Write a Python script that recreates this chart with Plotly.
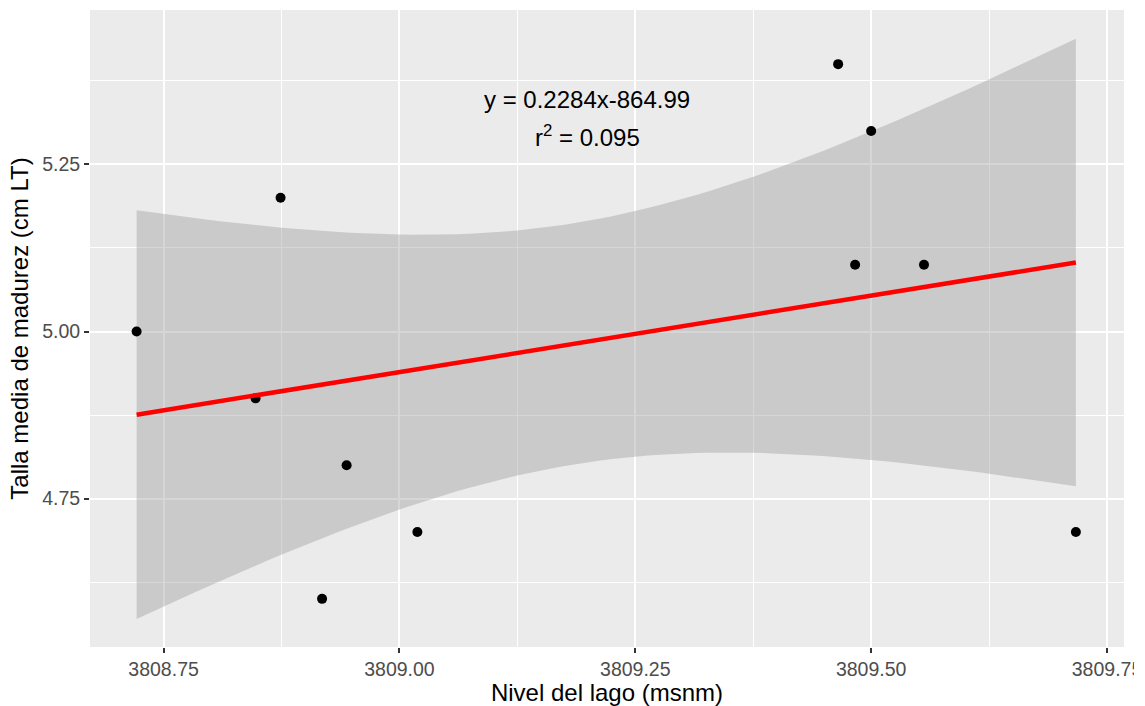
import numpy as np
import plotly.graph_objects as go

# Lake level (m a.s.l.) and mean length at maturity (cm TL)
nivel = [3808.7214, 3808.8475, 3808.8740, 3808.9180, 3808.9440, 3809.0190,
         3809.4650, 3809.4830, 3809.5000, 3809.5560, 3809.7170]
talla = [5.0, 4.9, 5.2, 4.6, 4.8, 4.7, 5.4, 5.1, 5.3, 5.1, 4.7]

x_ticks = [3808.75, 3809.00, 3809.25, 3809.50, 3809.75]
x_tick_text = ["3808.75", "3809.00", "3809.25", "3809.50", "3809.75"]
y_ticks = [4.75, 5.00, 5.25]
y_tick_text = ["4.75", "5.00", "5.25"]
x_minor = [3808.625, 3808.875, 3809.125, 3809.375, 3809.625]
y_minor = [4.625, 4.875, 5.125, 5.375]

eq_text = "y = 0.2284x-864.99"
r2_text = "r<sup>2</sup> = 0.095"

# Linear fit with 95% confidence band
x = np.array(nivel)
y = np.array(talla)
n = len(x)
b1, b0 = np.polyfit(x, y, 1)
resid = y - (b0 + b1 * x)
s = np.sqrt(np.sum(resid ** 2) / (n - 2))
sxx = np.sum((x - x.mean()) ** 2)
t_crit = 2.262157  # t(0.975, df=9)
xs = np.linspace(x.min(), x.max(), 80)
fit = b0 + b1 * xs
se = s * np.sqrt(1.0 / n + (xs - x.mean()) ** 2 / sxx)
lo = fit - t_crit * se
hi = fit + t_crit * se

fig = go.Figure()
fig.add_trace(go.Scatter(
    x=np.concatenate([xs, xs[::-1]]), y=np.concatenate([hi, lo[::-1]]),
    fill="toself", fillcolor="rgba(153,153,153,0.4)", line=dict(width=0),
    mode="lines", hoverinfo="skip", showlegend=False))
fig.add_trace(go.Scatter(
    x=nivel, y=talla, mode="markers",
    marker=dict(color="black", size=10), showlegend=False))
fig.add_trace(go.Scatter(
    x=xs, y=fit, mode="lines", line=dict(color="#FF0000", width=4.5),
    showlegend=False))

font_main = "Liberation Sans, Arial, sans-serif"
fig.add_annotation(x=3809.199, y=5.347, text=eq_text, showarrow=False,
                   font=dict(family=font_main, size=24, color="black"))
fig.add_annotation(x=3809.199, y=5.293, text=r2_text, showarrow=False,
                   font=dict(family=font_main, size=24, color="black"))

# Device edge: the last tick label runs past it and is cut off
fig.add_shape(type="rect", xref="paper", yref="paper",
              x0=1.0097, x1=1.04, y0=-0.12, y1=1.02,
              fillcolor="white", line=dict(width=0), layer="above")

axis_common = dict(
    showgrid=True, gridcolor="white", gridwidth=2.2, zeroline=False,
    showline=False, ticks="outside", ticklen=5, tickwidth=1.6,
    tickcolor="#333333", automargin=False,
    tickfont=dict(family=font_main, size=19.5, color="#4D4D4D"),
)

fig.update_layout(
    width=1145, height=706,
    paper_bgcolor="white", plot_bgcolor="#EBEBEB",
    margin=dict(l=90, r=21, t=10, b=59),
    font=dict(family=font_main),
    xaxis=dict(
        range=[3808.672, 3809.768], tickvals=x_ticks, ticktext=x_tick_text,
        minor=dict(tickvals=x_minor, showgrid=True, gridcolor="white",
                   gridwidth=1.1, ticks=""),
        title=dict(text="Nivel del lago (msnm)", standoff=4,
                   font=dict(family=font_main, size=24, color="black")),
        **axis_common),
    yaxis=dict(
        range=[4.528, 5.481], tickvals=y_ticks, ticktext=y_tick_text,
        minor=dict(tickvals=y_minor, showgrid=True, gridcolor="white",
                   gridwidth=1.1, ticks=""),
        title=dict(text="Talla media de madurez (cm LT)", standoff=6,
                   font=dict(family=font_main, size=24, color="black")),
        **axis_common),
)

fig.write_html("out.html")
